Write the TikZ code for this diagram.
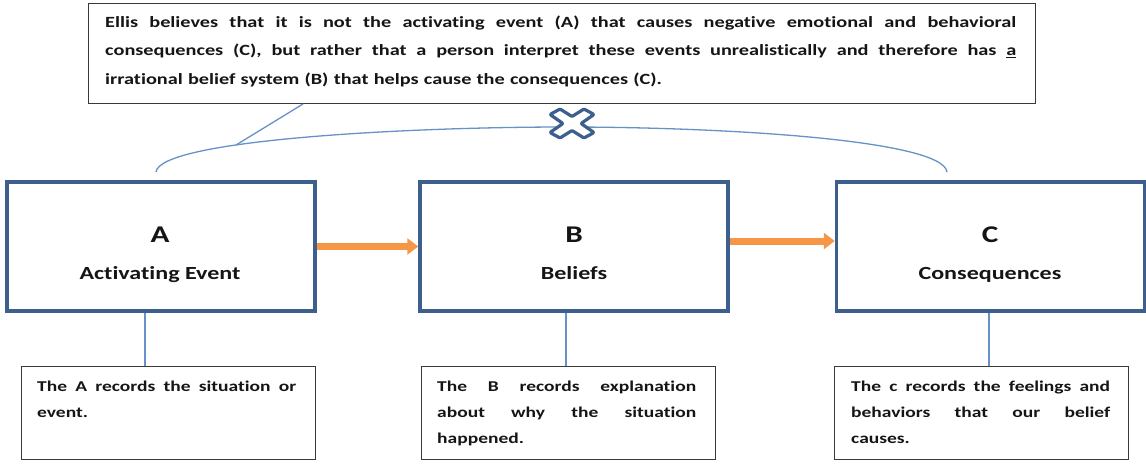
\documentclass[tikz,border=0pt]{standalone}
\usepackage{fontspec}
\setmainfont{Carlito}[FakeStretch=1.3, Ligatures=NoCommon]
\usetikzlibrary{arrows.meta}

\definecolor{boxblue}{HTML}{3C5F8E}
\definecolor{linkblue}{HTML}{6692C8}
\definecolor{flowor}{HTML}{F79646}
\definecolor{ink}{HTML}{151515}
\definecolor{frame}{HTML}{3A3A3A}

% one justified line of a fixed width (font word spaces, stretched)
\newcommand{\jline}[2]{{\spaceskip=0pt\xspaceskip=0pt\makebox[#1][s]{#2}}}

\tikzset{
  stagebox/.style={draw=boxblue, line width=3.5pt, fill=white,
    minimum width=308pt, minimum height=129pt, inner sep=0pt},
  notebox/.style={draw=frame, line width=1.6pt, fill=white,
    minimum width=294pt, minimum height=93pt, inner sep=0pt},
  topbox/.style={draw=frame, line width=1.6pt, fill=white,
    minimum width=947pt, minimum height=100pt, inner sep=0pt},
  letter/.style={anchor=base, inner sep=0pt, text=ink,
    font=\fontsize{24}{24}\selectfont\bfseries},
  caption/.style={anchor=base, inner sep=0pt, text=ink,
    font=\fontsize{18.5}{18.5}\selectfont\bfseries},
  notetext/.style={anchor=base west, inner sep=0pt, text=ink, align=left,
    text width=259pt, font=\fontsize{15}{26}\selectfont\bfseries},
  toptext/.style={anchor=base west, inner sep=0pt, text=ink, align=left,
    text width=911pt, font=\fontsize{15.6}{28.5}\selectfont\bfseries},
  link/.style={draw=linkblue, line width=1.3pt},
  flow/.style={draw=flowor, line width=7pt,
    -{Triangle[length=11pt,width=16pt]}},
  xmark/.style={draw=boxblue, line width=3.2pt, fill=white,
    line join=round, rounded corners=1pt},
}

\begin{document}
\begin{tikzpicture}[x=1pt,y=-1pt]
\useasboundingbox[fill=white] (0,0) rectangle (1146,466);

% statement box at the top
\node[topbox] (top) at (562,53.5) {};
\node[toptext] (toptxt) at (105,27) {%
\jline{911pt}{Ellis believes that it is not the activating event (A) that causes negative emotional and behavioral}\\
\jline{911pt}{consequences (C), but rather that a person interpret these events unrealistically and therefore has \underline{a}}\\
irrational belief system (B) that helps cause the consequences (C).};

% the three stages
\node[stagebox] (A) at (161,246.5) {};
\node[stagebox] (B) at (574,246.5) {};
\node[stagebox] (C) at (990.5,246.5) {};

\node[letter]  (Al) at (160,242) {A};
\node[caption] (Ac) at (160,279) {Activating Event};
\node[letter]  (Bl) at (574,242) {B};
\node[caption] (Bc) at (574,279) {Beliefs};
\node[letter]  (Cl) at (990,242) {C};
\node[caption] (Cc) at (990,279) {Consequences};

% flow arrows
\draw[flow] (A.east) -- (B.west);
\draw[flow] ([yshift=5.5pt]B.east) -- ([yshift=5.5pt]C.west);

% notes below each stage
\node[notebox] (nA) at (168.5,413) {};
\node[notebox] (nB) at (568.5,413) {};
\node[notebox] (nC) at (981.5,413) {};

\node[notetext] (tA) at (37,391) {%
\jline{259pt}{The A records the situation or}\\
event.};
\node[notetext] (tB) at (437,391) {%
\jline{259pt}{The B records explanation}\\
\jline{259pt}{about why the situation}\\
happened.};
\node[notetext] (tC) at (851,391) {%
\jline{259pt}{The c records the feelings and}\\
\jline{259pt}{behaviors that our belief}\\
causes.};

% stems from stages to notes
\coordinate (sA) at (145,0);
\coordinate (sB) at (566,0);
\coordinate (sC) at (989,0);
\draw[link] (sA |- A.south) -- (sA |- nA.north);
\draw[link] (sB |- B.south) -- (sB |- nB.north);
\draw[link] (sC |- C.south) -- (sC |- nC.north);

% arc from A to C, crossed out
\coordinate (arcL) at (156,172);
\coordinate (arcTop) at (565,127);
\coordinate (arcR) at (947,172);
\coordinate (arcP) at (236,145);
\coordinate (tie) at (303,104);
\draw[link] (arcL) .. controls (160,140) and (405,127) .. (arcTop)
  .. controls (725,127) and (943,140) .. (arcR);
\draw[link] (tie) -- (arcP);

\draw[xmark] (572,116.5) -- (584,109) -- (594,114.5) -- (581,123.5)
  -- (594,132.5) -- (584,138) -- (572,130.5) -- (560,138) -- (550,132.5)
  -- (563,123.5) -- (550,114.5) -- (560,109) -- cycle;
\end{tikzpicture}
\end{document}
